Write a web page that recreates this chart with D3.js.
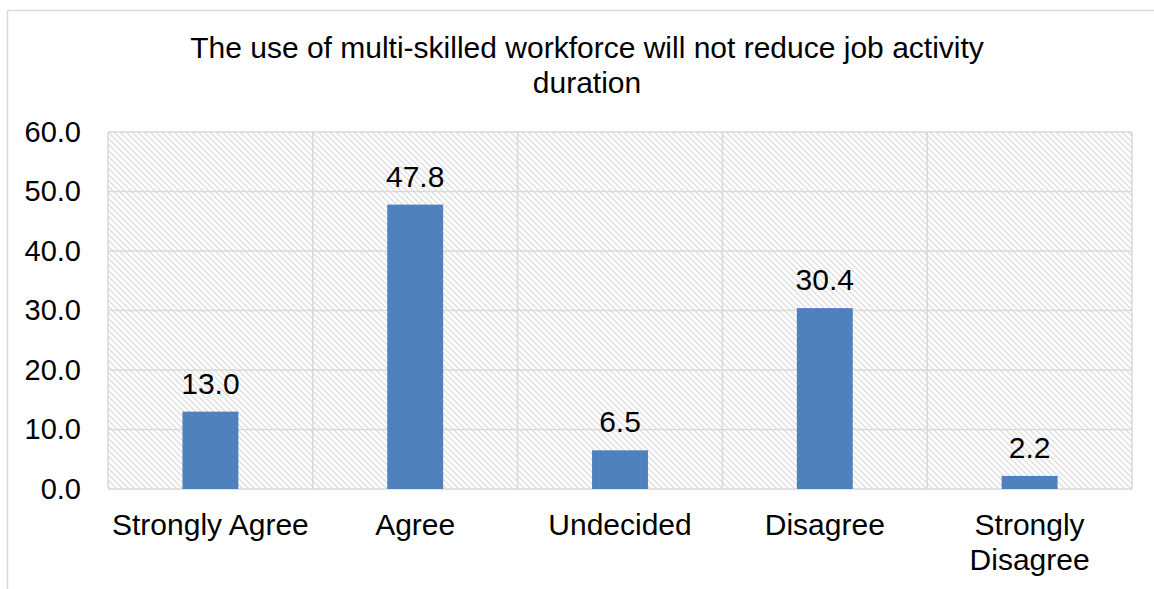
<!DOCTYPE html>
<html>
<head>
<meta charset="utf-8">
<script src="https://cdn.jsdelivr.net/npm/d3@7"></script>
<style>
  html, body { margin: 0; padding: 0; background: #fff; }
  svg { display: block; font-family: "Liberation Sans", Arial, sans-serif; }
</style>
</head>
<body>
<svg id="chart" width="1154" height="589"></svg>
<script>
// Survey responses (percent)
const categories = ["Strongly Agree", "Agree", "Undecided", "Disagree", "Strongly Disagree"];
const values = [13.0, 47.8, 6.5, 30.4, 2.2];
const yTicks = [0, 10, 20, 30, 40, 50, 60];
const titleLines = ["The use of multi-skilled workforce will not reduce job activity", "duration"];

const svg = d3.select("#chart");
const plot = { left: 108, right: 1132, top: 132, bottom: 489 };
const gridColor = "#d9d9d9";

// Diagonal hatch used as plot-area fill
const defs = svg.append("defs");
const pat = defs.append("pattern")
  .attr("id", "hatch")
  .attr("patternUnits", "userSpaceOnUse")
  .attr("width", 6).attr("height", 6);
pat.append("rect").attr("width", 6).attr("height", 6).attr("fill", "#fff");
pat.append("path")
  .attr("d", "M0,0 L6,6 M-3,3 L3,9 M3,-3 L9,3")
  .attr("stroke", "#e0e0e0").attr("stroke-width", 1.5);

// Chart frame
svg.append("rect")
  .attr("x", 7.5).attr("y", 10.5)
  .attr("width", 1170).attr("height", 600)
  .attr("fill", "#fff").attr("stroke", gridColor).attr("stroke-width", 1.5);

const x = d3.scaleBand().domain(categories).range([plot.left, plot.right]).paddingInner(0.727).paddingOuter(0.3635);
const cell = d3.scaleBand().domain(categories).range([plot.left, plot.right]);
const y = d3.scaleLinear().domain([0, 60]).range([plot.bottom, plot.top]);

// Plot area background
svg.append("rect")
  .attr("x", plot.left).attr("y", plot.top)
  .attr("width", plot.right - plot.left).attr("height", plot.bottom - plot.top)
  .attr("fill", "url(#hatch)");

// Horizontal gridlines
svg.append("g")
  .selectAll("line").data(yTicks).join("line")
  .attr("x1", plot.left).attr("x2", plot.right)
  .attr("y1", d => y(d)).attr("y2", d => y(d))
  .attr("stroke", gridColor).attr("stroke-width", 1.5);

// Vertical gridlines between categories and plot border
const vLines = categories.map(c => cell(c)).concat([plot.right]);
svg.append("g")
  .selectAll("line").data(vLines).join("line")
  .attr("x1", d => d).attr("x2", d => d)
  .attr("y1", plot.top).attr("y2", plot.bottom)
  .attr("stroke", gridColor).attr("stroke-width", 1.5);

// Y axis labels
const yAxis = d3.axisLeft(y).tickValues(yTicks).tickFormat(d3.format(".1f")).tickSize(0).tickPadding(27);
const gy = svg.append("g").attr("transform", `translate(${plot.left},0)`).call(yAxis);
gy.select(".domain").remove();
gy.selectAll("text").attr("font-size", 29).attr("fill", "#000")
  .attr("font-family", "'Liberation Sans', Arial, sans-serif").attr("dy", "0.31em");

// Bars
svg.append("g")
  .selectAll("rect").data(values).join("rect")
  .attr("x", (d, i) => x(categories[i]))
  .attr("width", x.bandwidth())
  .attr("y", d => y(d))
  .attr("height", d => y(0) - y(d))
  .attr("fill", "#4f81bd");

// Value labels
svg.append("g")
  .selectAll("text").data(values).join("text")
  .attr("x", (d, i) => x(categories[i]) + x.bandwidth() / 2)
  .attr("y", d => y(d) - 18)
  .attr("text-anchor", "middle")
  .attr("font-size", 30).attr("fill", "#000")
  .text(d => d3.format(".1f")(d));

// Category labels, wrapped to the cell width
const xl = svg.append("g")
  .selectAll("text").data(categories).join("text")
  .attr("x", d => cell(d) + cell.bandwidth() / 2)
  .attr("y", 535)
  .attr("text-anchor", "middle")
  .attr("font-size", 30).attr("fill", "#000");
xl.each(function(d) {
  const t = d3.select(this);
  const words = d.split(" ");
  let line = [];
  const lines = [];
  const probe = t.append("tspan");
  words.forEach(w => {
    const test = line.concat([w]).join(" ");
    probe.text(test);
    if (probe.node().getComputedTextLength() > cell.bandwidth() - 2 && line.length) {
      lines.push(line.join(" "));
      line = [w];
    } else {
      line.push(w);
    }
  });
  lines.push(line.join(" "));
  probe.remove();
  lines.forEach((l, i) => {
    t.append("tspan").attr("x", t.attr("x")).attr("dy", i === 0 ? 0 : 35).text(l);
  });
});

// Title
svg.append("g")
  .selectAll("text").data(titleLines).join("text")
  .attr("x", 587)
  .attr("y", (d, i) => 58 + i * 35)
  .attr("text-anchor", "middle")
  .attr("font-size", 30).attr("fill", "#000")
  .text(d => d);
</script>
</body>
</html>
